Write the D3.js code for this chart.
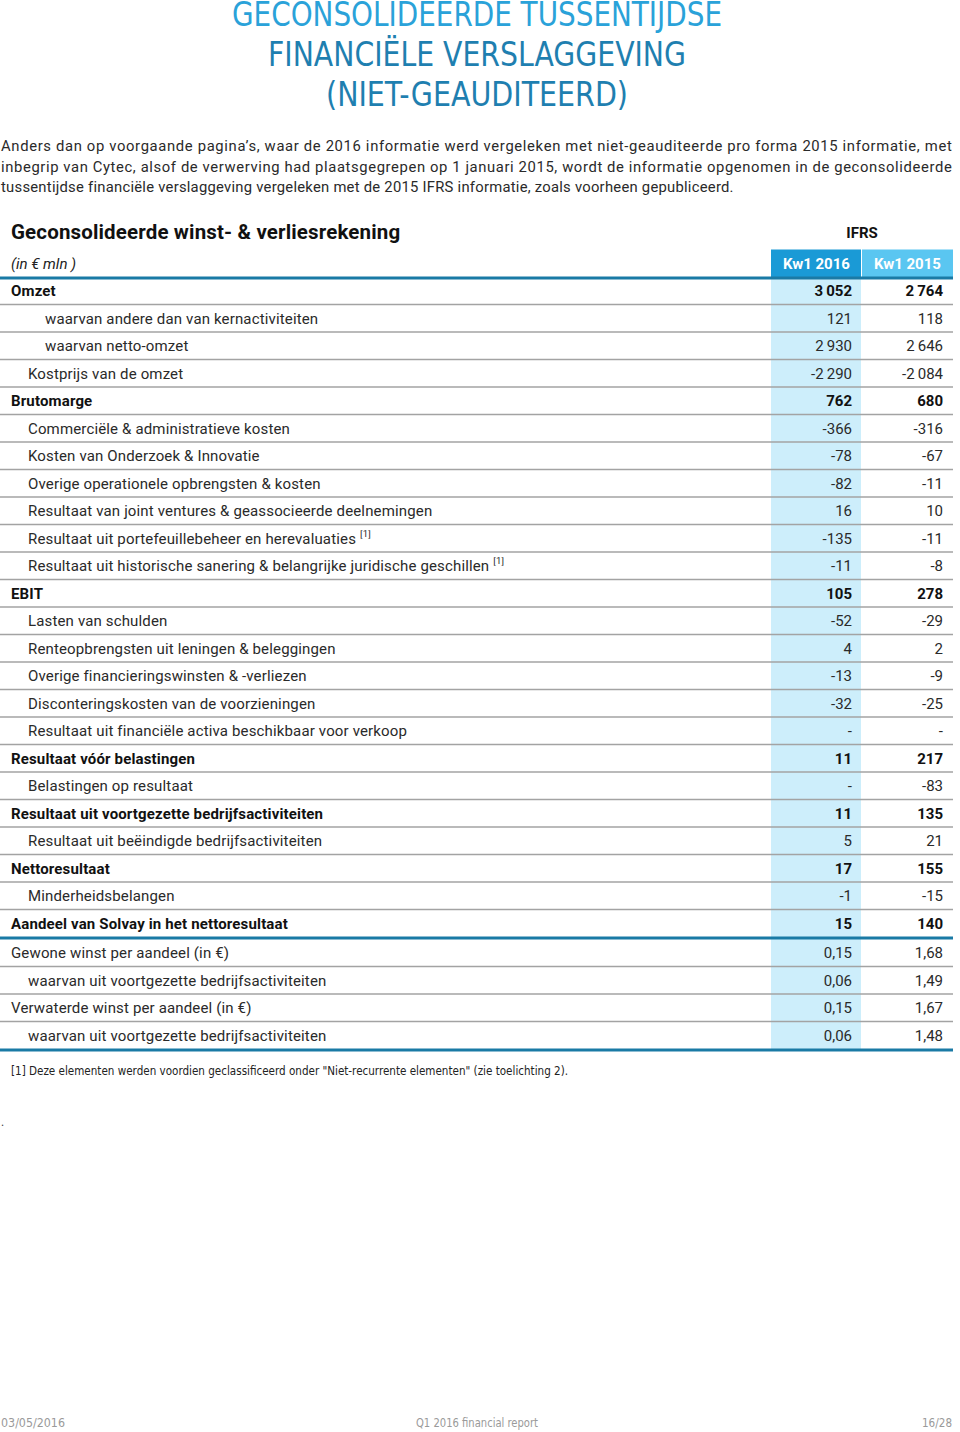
<!DOCTYPE html>
<html><head><meta charset="utf-8">
<script src="https://cdn.jsdelivr.net/npm/d3@7/dist/d3.min.js"></script>
<style>body{margin:0;background:#fff}svg{display:block}</style>
</head><body>
<svg id="c" width="960" height="1432"></svg>
<script>
// ---------- data ----------
const titleLines = ["GECONSOLIDEERDE TUSSENTIJDSE","FINANCIËLE VERSLAGGEVING","(NIET-GEAUDITEERD)"];
const introLines = [
 "Anders dan op voorgaande pagina’s, waar de 2016 informatie werd vergeleken met niet-geauditeerde pro forma 2015 informatie, met",
 "inbegrip van Cytec, alsof de verwerving had plaatsgegrepen op 1 januari 2015, wordt de informatie opgenomen in de geconsolideerde",
 "tussentijdse financiële verslaggeving vergeleken met de 2015 IFRS informatie, zoals voorheen gepubliceerd."
];
const tableTitle = "Geconsolideerde winst- & verliesrekening";
const unitLabel = "(in € mln )";
const standard = "IFRS";
const columns = ["Kw1 2016","Kw1 2015"];
const labels = [
 "Omzet","waarvan andere dan van kernactiviteiten","waarvan netto-omzet","Kostprijs van de omzet","Brutomarge",
 "Commerciële & administratieve kosten","Kosten van Onderzoek & Innovatie","Overige operationele opbrengsten & kosten",
 "Resultaat van joint ventures & geassocieerde deelnemingen","Resultaat uit portefeuillebeheer en herevaluaties",
 "Resultaat uit historische sanering & belangrijke juridische geschillen","EBIT","Lasten van schulden",
 "Renteopbrengsten uit leningen & beleggingen","Overige financieringswinsten & -verliezen",
 "Disconteringskosten van de voorzieningen","Resultaat uit financiële activa beschikbaar voor verkoop",
 "Resultaat vóór belastingen","Belastingen op resultaat","Resultaat uit voortgezette bedrijfsactiviteiten",
 "Resultaat uit beëindigde bedrijfsactiviteiten","Nettoresultaat","Minderheidsbelangen",
 "Aandeel van Solvay in het nettoresultaat","Gewone winst per aandeel (in €)",
 "waarvan uit voortgezette bedrijfsactiviteiten","Verwaterde winst per aandeel (in €)",
 "waarvan uit voortgezette bedrijfsactiviteiten"
];
const levels = [0,2,2,1,0,1,1,1,1,1,1,0,1,1,1,1,1,0,1,0,1,0,1,0,0,1,0,1];
const boldRows = [1,0,0,0,1,0,0,0,0,0,0,1,0,0,0,0,0,1,0,1,0,1,0,1,0,0,0,0];
const footnoteMarks = ["","","","","","","","","","[1]","[1]","","","","","","","","","","","","","","","","",""];
const values2016 = [3052,121,2930,-2290,762,-366,-78,-82,16,-135,-11,105,-52,4,-13,-32,null,11,null,11,5,17,-1,15,0.15,0.06,0.15,0.06];
const values2015 = [2764,118,2646,-2084,680,-316,-67,-11,10,-11,-8,278,-29,2,-9,-25,null,217,-83,135,21,155,-15,140,1.68,1.49,1.67,1.48];
const decimals  = [0,0,0,0,0,0,0,0,0,0,0,0,0,0,0,0,0,0,0,0,0,0,0,0,2,2,2,2];
const thickAfter = [23,27];
const footnote = "[1] Deze elementen werden voordien geclassificeerd onder \"Niet-recurrente elementen\" (zie toelichting 2).";
const footerTexts = ["03/05/2016","Q1 2016 financial report","16/28"];

// ---------- drawing ----------
const W = 960;
const svg = d3.select("#c");
const font = "Roboto, 'Open Sans', sans-serif";
const condensed = "'Liberation Sans Narrow','DejaVu Sans Condensed', Roboto, sans-serif";
const loc = d3.formatLocale({decimal:",", thousands:"\u2009", grouping:[3], currency:["€",""], minus:"-"});
const fmt = (v,d) => v == null ? "-" : (d ? loc.format(",."+d+"f")(v) : loc.format(",d")(v));

// title
const tY = d3.scalePoint().domain(d3.range(titleLines.length)).range([14, 94]);
const tW = [490, 418, 302];
svg.selectAll("text.title").data(titleLines).join("text")
  .attr("class","title")
  .attr("x", W/2 - 3).attr("y", (d,i)=>tY(i)+12)
  .attr("text-anchor","middle")
  .attr("font-family", condensed)
  .attr("font-size", 34)
  .attr("textLength", (d,i)=>tW[i]).attr("lengthAdjust","spacingAndGlyphs")
  .attr("fill", (d,i)=> i===0 ? "#2aa2d9" : "#1f7fb0")
  .text(d=>d);

// intro paragraph
const pY = d3.scalePoint().domain(d3.range(introLines.length)).range([151, 192]);
svg.selectAll("text.intro").data(introLines).join("text")
  .attr("class","intro")
  .attr("x", 1).attr("y",(d,i)=>pY(i))
  .attr("font-family", font).attr("font-size", 14.8).attr("fill","#2a2a2a")
  .attr("letter-spacing", 0.25)
  .each(function(d,i){ if(i < introLines.length-1) d3.select(this).attr("textLength", 951).attr("lengthAdjust","spacing"); })
  .text(d=>d);

// table scales
const rowH = 27.5;
const y = d3.scaleBand().domain(d3.range(labels.length)).range([277, 277 + rowH*labels.length]);
const yPos = i => y(i) + (i > thickAfter[0] ? 2 : 0);
const x = d3.scaleBand().domain(columns).range([771, 953]);
const indent = d3.scaleOrdinal().domain([0,1,2]).range([11, 28, 45]);

// table title
svg.append("text").attr("x", 11).attr("y", 239).attr("font-family", font)
  .attr("font-size", 20.5).attr("font-weight", 700).attr("fill","#111").attr("letter-spacing",0.15).text(tableTitle);
svg.append("text").attr("x", x.range()[0] + (x.range()[1]-x.range()[0])/2).attr("y", 238)
  .attr("text-anchor","middle").attr("font-family", font).attr("font-size", 15)
  .attr("font-weight", 700).attr("fill","#111").text(standard);

// header
const hTop = 249.5, hH = 277 - 249.5;
svg.append("text").attr("x", 11).attr("y", 269).attr("font-family", font).attr("font-size", 15)
  .attr("font-style","italic").attr("fill","#222").text(unitLabel);
svg.selectAll("rect.hdr").data(columns).join("rect").attr("class","hdr")
  .attr("x", d=>x(d)).attr("y", hTop).attr("width", (d,i)=> x.bandwidth() - (i===0?1:0)).attr("height", hH)
  .attr("fill", (d,i)=> i===0 ? "#1a9ad6" : "#5ac6f1");
svg.selectAll("text.hdr").data(columns).join("text").attr("class","hdr")
  .attr("x", d=>x(d)+x.bandwidth()/2).attr("y", hTop + 19.5).attr("text-anchor","middle")
  .attr("font-family", font).attr("font-size", 15).attr("font-weight", 700).attr("fill","#fff").text(d=>d);

// column band for current quarter
svg.append("rect").attr("x", x(columns[0])).attr("y", y(0))
  .attr("width", x.bandwidth()-1).attr("height", yPos(labels.length-1)+rowH - y(0))
  .attr("fill","#cdeefb");

// rows
const rows = svg.selectAll("g.row").data(labels).join("g").attr("class","row")
  .attr("transform",(d,i)=>`translate(0,${yPos(i)})`);
rows.append("line").attr("x1",0).attr("x2",953).attr("y1",rowH).attr("y2",rowH)
  .attr("stroke","#a3a3a3").attr("stroke-width",1.5)
  .filter((d,i)=>thickAfter.includes(i)).attr("stroke","#1a7aa5").attr("stroke-width",3.2).attr("y1",rowH+1).attr("y2",rowH+1);
const lbl = rows.append("text").attr("x",(d,i)=>indent(levels[i])).attr("y", rowH/2+5.5)
  .attr("font-family", font).attr("font-size", 15).attr("letter-spacing", 0.15)
  .attr("font-weight",(d,i)=>boldRows[i]?700:400).attr("fill",(d,i)=>boldRows[i]?"#111":"#2a2a2a");
lbl.append("tspan").text(d=>d);
lbl.filter((d,i)=>footnoteMarks[i]).append("tspan").attr("dx",4).attr("dy",-7).attr("font-size",9.5)
  .text((d)=>footnoteMarks[labels.indexOf(d)]);
const vals = [values2016, values2015];
columns.forEach((c,ci)=>{
  rows.append("text").attr("x", x(c)+x.bandwidth()-10).attr("y", rowH/2+5.5).attr("text-anchor","end")
    .attr("font-family", font).attr("font-size", 15)
    .attr("font-weight",(d,i)=>boldRows[i]?700:400).attr("fill",(d,i)=>boldRows[i]?"#111":"#2a2a2a")
    .text((d,i)=>fmt(vals[ci][i], decimals[i]));
});
// header thick line
svg.append("line").attr("x1",0).attr("x2",953).attr("y1",278).attr("y2",278).attr("stroke","#1a7aa5").attr("stroke-width",3.2);

// footnote
svg.append("text").attr("x",11).attr("y",1075).attr("font-family",condensed)
  .attr("font-size",12.5).attr("fill","#222").attr("textLength",557).attr("lengthAdjust","spacingAndGlyphs").text(footnote);
svg.append("text").attr("x",1).attr("y",1126).attr("font-family",font).attr("font-size",12).attr("fill","#444").text(".");

// footer
const fx = d3.scalePoint().domain(footerTexts).range([1, 952]);
const footW = [64, 122, 30];
svg.selectAll("text.foot").data(footerTexts).join("text").attr("class","foot")
  .attr("x",(d,i)=> i===1 ? 477 : fx(d)).attr("y",1427)
  .attr("text-anchor",(d,i)=>["start","middle","end"][i])
  .attr("font-family",condensed).attr("font-size",12.5).attr("fill","#9a9a9a")
  .attr("textLength",(d,i)=>footW[i]).attr("lengthAdjust","spacingAndGlyphs")
  .text(d=>d);
</script>
</body></html>
